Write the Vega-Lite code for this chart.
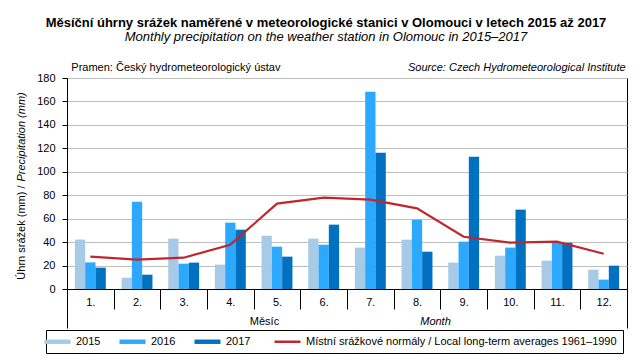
{
  "$schema": "https://vega.github.io/schema/vega-lite/v6.json",
  "width": 560,
  "height": 211,
  "autosize": {"type": "none"},
  "padding": {"left": 67, "top": 78, "right": 16, "bottom": 69},
  "background": "white",
  "title": {
    "text": "Měsíční úhrny srážek naměřené v meteorologické stanici v Olomouci v letech 2015 až 2017",
    "subtitle": "Monthly precipitation on the weather station in Olomouc in 2015–2017",
    "font": "Liberation Sans",
    "fontSize": 13,
    "fontWeight": "bold",
    "color": "black",
    "subtitleFont": "Liberation Sans",
    "subtitleFontSize": 13,
    "subtitleFontStyle": "italic",
    "subtitleColor": "black",
    "subtitlePadding": 1,
    "anchor": "middle",
    "frame": "group",
    "dx": -21,
    "offset": 17
  },
  "datasets": {
    "bars": [
      {"month": "1.", "series": "2015", "value": 42.2},
      {"month": "1.", "series": "2016", "value": 22.7},
      {"month": "1.", "series": "2017", "value": 18.2},
      {"month": "2.", "series": "2015", "value": 9.7},
      {"month": "2.", "series": "2016", "value": 74.5},
      {"month": "2.", "series": "2017", "value": 12.2},
      {"month": "3.", "series": "2015", "value": 43.0},
      {"month": "3.", "series": "2016", "value": 21.6},
      {"month": "3.", "series": "2017", "value": 22.5},
      {"month": "4.", "series": "2015", "value": 20.8},
      {"month": "4.", "series": "2016", "value": 56.6},
      {"month": "4.", "series": "2017", "value": 50.6},
      {"month": "5.", "series": "2015", "value": 45.5},
      {"month": "5.", "series": "2016", "value": 36.1},
      {"month": "5.", "series": "2017", "value": 27.6},
      {"month": "6.", "series": "2015", "value": 43.0},
      {"month": "6.", "series": "2016", "value": 37.8},
      {"month": "6.", "series": "2017", "value": 54.9},
      {"month": "7.", "series": "2015", "value": 35.3},
      {"month": "7.", "series": "2016", "value": 168.3},
      {"month": "7.", "series": "2017", "value": 116.3},
      {"month": "8.", "series": "2015", "value": 42.1},
      {"month": "8.", "series": "2016", "value": 59.1},
      {"month": "8.", "series": "2017", "value": 31.8},
      {"month": "9.", "series": "2015", "value": 22.5},
      {"month": "9.", "series": "2016", "value": 40.4},
      {"month": "9.", "series": "2017", "value": 112.9},
      {"month": "10.", "series": "2015", "value": 28.4},
      {"month": "10.", "series": "2016", "value": 35.3},
      {"month": "10.", "series": "2017", "value": 67.7},
      {"month": "11.", "series": "2015", "value": 24.2},
      {"month": "11.", "series": "2016", "value": 39.5},
      {"month": "11.", "series": "2017", "value": 39.5},
      {"month": "12.", "series": "2015", "value": 16.5},
      {"month": "12.", "series": "2016", "value": 8.0},
      {"month": "12.", "series": "2017", "value": 19.9}
    ],
    "normals": [
      {"month": "1.", "series": "Místní srážkové normály / Local long-term averages 1961–1990", "value": 27.6},
      {"month": "2.", "series": "Místní srážkové normály / Local long-term averages 1961–1990", "value": 25.0},
      {"month": "3.", "series": "Místní srážkové normály / Local long-term averages 1961–1990", "value": 26.7},
      {"month": "4.", "series": "Místní srážkové normály / Local long-term averages 1961–1990", "value": 37.8},
      {"month": "5.", "series": "Místní srážkové normály / Local long-term averages 1961–1990", "value": 72.8},
      {"month": "6.", "series": "Místní srážkové normály / Local long-term averages 1961–1990", "value": 77.9},
      {"month": "7.", "series": "Místní srážkové normály / Local long-term averages 1961–1990", "value": 76.2},
      {"month": "8.", "series": "Místní srážkové normály / Local long-term averages 1961–1990", "value": 68.8},
      {"month": "9.", "series": "Místní srážkové normály / Local long-term averages 1961–1990", "value": 44.6},
      {"month": "10.", "series": "Místní srážkové normály / Local long-term averages 1961–1990", "value": 39.5},
      {"month": "11.", "series": "Místní srážkové normály / Local long-term averages 1961–1990", "value": 40.4},
      {"month": "12.", "series": "Místní srážkové normály / Local long-term averages 1961–1990", "value": 30.1}
    ]
  },
  "config": {
    "font": "Liberation Sans",
    "view": {"stroke": "black", "strokeWidth": 1},
    "axis": {
      "labelFont": "Liberation Sans",
      "labelFontSize": 11,
      "labelColor": "black",
      "titleFont": "Liberation Sans",
      "titleFontSize": 11,
      "titleFontWeight": "normal",
      "titleColor": "black"
    },
    "legend": {
      "labelFont": "Liberation Sans",
      "labelFontSize": 11,
      "labelColor": "black"
    }
  },
  "layer": [
    {
      "data": {"name": "bars"},
      "mark": {"type": "bar"},
      "encoding": {
        "x": {
          "field": "month",
          "type": "ordinal",
          "scale": {
            "domain": ["1.", "2.", "3.", "4.", "5.", "6.", "7.", "8.", "9.", "10.", "11.", "12."],
            "paddingInner": 0,
            "paddingOuter": 0
          },
          "axis": {
            "orient": "bottom",
            "title": "Měsíc",
            "labelAngle": 0,
            "domainColor": "black",
            "tickColor": "black",
            "tickBand": "extent",
            "tickSize": {"condition": {"test": "datum.value == null || datum.value === '12.'", "value": 39}, "value": 20},
            "labelPadding": {"condition": {"test": "datum.value === '12.'", "value": -32}, "value": -13},
            "grid": false,
            "titleX": 197,
            "titleY": 32,
            "titleBaseline": "middle",
            "titleAlign": "center",
            "titleAngle": 0
          }
        },
        "xOffset": {
          "field": "series",
          "type": "nominal",
          "scale": {"paddingInner": 0, "paddingOuter": 0.765}
        },
        "y": {
          "field": "value",
          "type": "quantitative",
          "scale": {"domain": [0, 180], "nice": false},
          "axis": {
            "orient": "left",
            "title": "Úhrn srážek (mm) /",
            "values": [0, 20, 40, 60, 80, 100, 120, 140, 160, 180],
            "grid": true,
            "gridColor": "#BFBFBF",
            "domainColor": "black",
            "tickColor": "black",
            "tickSize": 5,
            "labelPadding": 7,
            "titleAngle": 270,
            "titleAlign": "right",
            "titleBaseline": "bottom",
            "titleX": -41,
            "titleY": 107
          }
        },
        "color": {
          "field": "series",
          "type": "nominal",
          "scale": {
            "domain": ["2015", "2016", "2017", "Místní srážkové normály / Local long-term averages 1961–1990"],
            "range": ["#A7CBE7", "#2CA9FF", "#0070C0", "#C0262D"]
          },
          "legend": {
            "title": null,
            "orient": "none",
            "legendX": -21,
            "legendY": 252,
            "direction": "horizontal",
            "strokeColor": "black",
            "padding": 6,
            "columnPadding": 18,
            "labelLimit": 0,
            "labelOffset": 13,
            "symbolSize": 676,
            "encode": {
              "symbols": {
                "update": {
                  "shape": {"signal": "datum.index === 3 ? 'stroke' : 'M-1,-0.17H1V0.17H-1Z'"},
                  "strokeWidth": {"signal": "datum.index === 3 ? 2.5 : 0"},
                  "stroke": {"scale": "color", "field": "value"}
                }
              }
            }
          }
        }
      }
    },
    {
      "data": {"name": "normals"},
      "mark": {"type": "line", "strokeWidth": 2.2},
      "encoding": {
        "x": {"field": "month", "type": "ordinal", "axis": null},
        "y": {"field": "value", "type": "quantitative", "axis": null},
        "color": {"field": "series", "type": "nominal"}
      }
    },
    {
      "data": {"name": "normals"},
      "mark": {"type": "point", "opacity": 0},
      "encoding": {
        "x": {
          "field": "month",
          "type": "ordinal",
          "axis": {
            "orient": "top",
            "domain": false,
            "ticks": false,
            "tickSize": 0,
            "grid": false,
            "labelAngle": 0,
            "labelOverlap": false,
            "labelBound": false,
            "labelPadding": 8,
            "labelBaseline": "alphabetic",
            "labelLimit": 0,
            "labelExpr": "datum.value === '1.' ? 'Pramen: Český hydrometeorologický ústav' : datum.value === '12.' ? 'Source: Czech Hydrometeorological Institute' : ''",
            "labelAlign": {"condition": {"test": "datum.value === '12.'", "value": "right"}, "value": "left"},
            "labelOffset": {"condition": {"test": "datum.value === '12.'", "value": 22}, "value": -19},
            "labelFontStyle": {"condition": {"test": "datum.value === '12.'", "value": "italic"}, "value": "normal"},
            "title": "Month",
            "titleFontStyle": "italic",
            "titleX": 368,
            "titleY": 243,
            "titleBaseline": "middle",
            "titleAlign": "center",
            "titleAngle": 0
          }
        },
        "y": {
          "field": "value",
          "type": "quantitative",
          "axis": {
            "orient": "right",
            "labels": false,
            "ticks": false,
            "domain": false,
            "grid": false,
            "title": "Precipitation (mm)",
            "titleFontStyle": "italic",
            "titleAngle": 270,
            "titleAlign": "left",
            "titleBaseline": "bottom",
            "titleX": -601,
            "titleY": 103
          }
        }
      }
    }
  ],
  "resolve": {
    "axis": {"x": "independent", "y": "independent"}
  }
}
